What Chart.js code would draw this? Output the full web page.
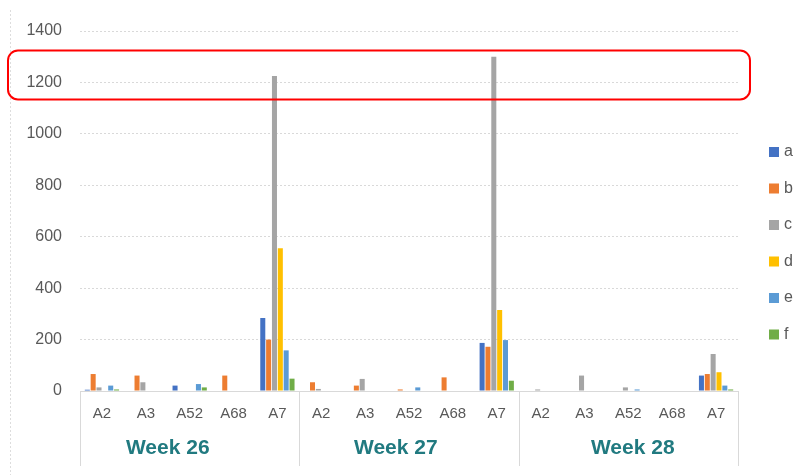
<!DOCTYPE html>
<html lang="en">
<head>
    <meta charset="UTF-8">
    <title>Weekly chart</title>
    <script src="https://cdn.jsdelivr.net/npm/chart.js"></script>
    <style>
        html, body { margin: 0; padding: 0; background: #ffffff; }
        .chart-container { position: relative; width: 805px; height: 475px; }
    </style>
</head>
<body>
    <div class="chart-container">
        <canvas id="weekChart"></canvas>
    </div>
    <script>
        // categories: 3 weeks x 5 sites
        const sites = ['A2', 'A3', 'A52', 'A68', 'A7'];
        const weeks = ['Week 26', 'Week 27', 'Week 28'];
        const categories = [...sites, ...sites, ...sites];
        const yTicks = [0, 200, 400, 600, 800, 1000, 1200, 1400];

        // series values, in category order (week 26 A2..A7, week 27 ..., week 28 ...)
        const seriesA = [5, 0, 21, 0, 284,   0, 0, 0, 0, 187,   0, 0, 0, 0, 60];
        const seriesB = [66, 60, 0, 60, 200,  34, 21, 6, 53, 172,  0, 0, 0, 0, 66];
        const seriesC = [14, 34, 0, 0, 1225,  8, 47, 0, 0, 1300,  6, 60, 14, 0, 144];
        const seriesD = [0, 0, 0, 0, 555,   0, 0, 0, 0, 315,   0, 0, 0, 0, 73];
        const seriesE = [21, 0, 27, 0, 158,  0, 0, 14, 0, 198,  0, 0, 6, 0, 21];
        const seriesF = [6, 0, 14, 0, 48,   0, 0, 0, 0, 40,   0, 0, 0, 0, 6];

        const seriesNames = ['a', 'b', 'c', 'd', 'e', 'f'];
        const seriesData = [seriesA, seriesB, seriesC, seriesD, seriesE, seriesF];
        const colors = ['#4472C4', '#ED7D31', '#A5A5A5', '#FFC000', '#5B9BD5', '#70AD47'];

        // where the week captions sit, as a category index
        const weekLabelAt = [1.5, 6.7, 12.1];

        const textGrey = '#595959';
        const lineGrey = '#d9d9d9';

        const extras = {
            id: 'extras',
            afterDraw(chart) {
                const ctx = chart.ctx;
                const x = chart.scales.x;
                const y = chart.scales.y;
                const area = chart.chartArea;
                ctx.save();

                // left dotted border
                ctx.strokeStyle = '#dddddd';
                ctx.lineWidth = 1;
                ctx.setLineDash([2, 2]);
                ctx.beginPath();
                ctx.moveTo(10.5, 10);
                ctx.lineTo(10.5, 475);
                ctx.stroke();
                ctx.setLineDash([]);

                // group separators below the axis
                ctx.strokeStyle = lineGrey;
                const half = (x.getPixelForValue(1) - x.getPixelForValue(0)) / 2;
                for (let g = 0; g <= weeks.length; g++) {
                    const px = Math.round(x.getPixelForValue(g * sites.length) - half) + 0.5;
                    ctx.beginPath();
                    ctx.moveTo(px, area.bottom);
                    ctx.lineTo(px, 466);
                    ctx.stroke();
                }

                // week captions
                ctx.fillStyle = '#217a80';
                ctx.font = 'bold 21px "Liberation Sans", Arial, sans-serif';
                ctx.textAlign = 'center';
                ctx.textBaseline = 'middle';
                weeks.forEach((w, i) => {
                    ctx.fillText(w, x.getPixelForValue(weekLabelAt[i]), 448);
                });

                // legend
                ctx.font = '16px "Liberation Sans", Arial, sans-serif';
                ctx.textAlign = 'left';
                seriesNames.forEach((n, i) => {
                    const cy = 152 + i * 36.5;
                    ctx.fillStyle = colors[i];
                    ctx.fillRect(769, cy - 5, 10, 10);
                    ctx.fillStyle = textGrey;
                    ctx.fillText(n, 784, cy);
                });

                // red highlight round the 1200 line
                const top = y.getPixelForValue(1200) - 32;
                ctx.strokeStyle = '#ff0000';
                ctx.lineWidth = 2;
                ctx.beginPath();
                ctx.roundRect(8, top, 742, 49, 10);
                ctx.stroke();

                ctx.restore();
            }
        };

        const datasets = seriesNames.map((name, i) => ({
            label: name,
            data: seriesData[i],
            backgroundColor: colors[i],
            borderWidth: 0,
            categoryPercentage: 0.8,
            barPercentage: 0.86
        }));

        new Chart(document.getElementById('weekChart'), {
            type: 'bar',
            data: { labels: categories, datasets: datasets },
            plugins: [extras],
            options: {
                responsive: true,
                maintainAspectRatio: false,
                animation: false,
                layout: { padding: { top: 31, right: 67, left: 0, bottom: 0 } },
                plugins: {
                    legend: { display: false },
                    tooltip: { enabled: false }
                },
                scales: {
                    x: {
                        grid: { display: false, drawTicks: false },
                        border: { display: true, color: lineGrey, width: 1 },
                        ticks: {
                            color: textGrey,
                            font: { family: '"Liberation Sans", Arial, sans-serif', size: 15 },
                            padding: 14,
                            maxRotation: 0,
                            autoSkip: false
                        },
                        afterFit(scale) { scale.height = 84; }
                    },
                    y: {
                        min: 0,
                        max: 1400,
                        afterBuildTicks(scale) { scale.ticks = yTicks.map(v => ({ value: v })); },
                        grid: { color: lineGrey, drawTicks: false },
                        border: { display: false, dash: [2, 2] },
                        ticks: {
                            color: textGrey,
                            font: { family: '"Liberation Sans", Arial, sans-serif', size: 16 },
                            padding: 18,
                            callback: (v) => String(v)
                        },
                        afterFit(scale) { scale.width = 80; }
                    }
                }
            }
        });
    </script>
</body>
</html>
